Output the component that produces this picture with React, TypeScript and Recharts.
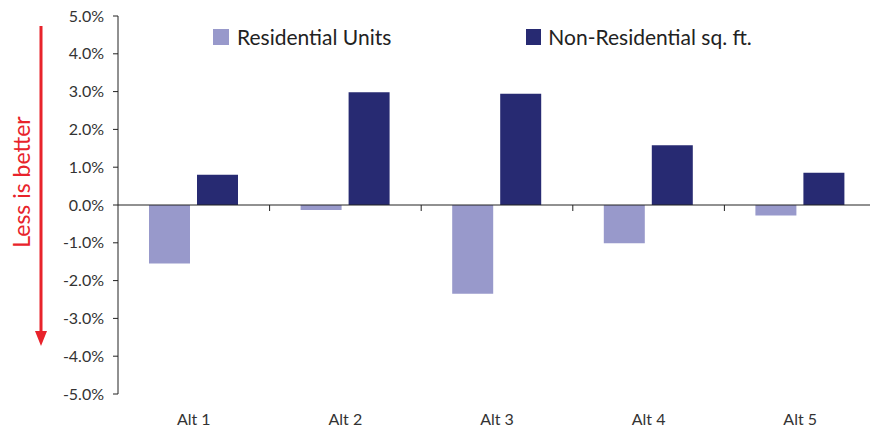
import React from 'react';
import { BarChart, Bar, XAxis, YAxis, ReferenceLine } from 'recharts';

const categories = ['Alt 1', 'Alt 2', 'Alt 3', 'Alt 4', 'Alt 5'];
const residentialUnits = [-1.55, -0.13, -2.35, -1.01, -0.28];
const nonResidentialSqFt = [0.8, 2.98, 2.94, 1.58, 0.85];
const yTicks = [-5, -4, -3, -2, -1, 0, 1, 2, 3, 4, 5];
const seriesNames = ['Residential Units', 'Non-Residential sq. ft.'];
const seriesColors = ['#9899CB', '#272A72'];
const annotation = 'Less is better';

const data = categories.map((c, i) => ({
  name: c,
  res: residentialUnits[i],
  nonres: nonResidentialSqFt[i],
}));

const FONT = 'Lato, "Open Sans", sans-serif';
const AXIS = '#222';

const ZeroAxis = (props: any) => {
  const { x1, x2, y1 } = props;
  const n = categories.length;
  const step = (x2 - x1) / n;
  const ticks = [];
  for (let i = 1; i <= n; i++) {
    const x = x1 + step * i;
    ticks.push(<line key={i} x1={x} x2={x} y1={y1} y2={y1 + 6} stroke={AXIS} strokeWidth={1} />);
  }
  return (
    <g>
      <line x1={x1} x2={x2} y1={y1} y2={y1} stroke={AXIS} strokeWidth={1} />
      {ticks}
    </g>
  );
};

export default function App() {
  return (
    <div
      style={{
        position: 'absolute',
        left: 0,
        top: 0,
        width: 870,
        height: 434,
        overflow: 'hidden',
        background: '#fff',
        fontFamily: FONT,
      }}
    >
      <BarChart
        width={880}
        height={434}
        data={data}
        margin={{ top: 16, right: 4, bottom: 10, left: 0 }}
        barGap={7}
        barSize={41}
      >
        <XAxis
          dataKey="name"
          axisLine={false}
          tickLine={false}
          tickSize={0}
          tickMargin={20}
          height={30}
          interval={0}
          tick={{ fill: '#333', fontSize: 16, fontFamily: FONT }}
        />
        <YAxis
          width={118}
          domain={[-5, 5]}
          ticks={yTicks}
          interval={0}
          tickFormatter={(v: number) => v.toFixed(1) + '%'}
          axisLine={{ stroke: AXIS }}
          tickLine={{ stroke: AXIS }}
          tickSize={5}
          tickMargin={9}
          tick={{ fill: '#333', fontSize: 16, fontFamily: FONT }}
        />
        <Bar dataKey="res" name={seriesNames[0]} fill={seriesColors[0]} isAnimationActive={false} />
        <Bar dataKey="nonres" name={seriesNames[1]} fill={seriesColors[1]} isAnimationActive={false} />
        <ReferenceLine y={0} shape={ZeroAxis} ifOverflow="visible" />
      </BarChart>

      <svg
        width={70}
        height={434}
        style={{ position: 'absolute', left: 0, top: 0, pointerEvents: 'none' }}
      >
        <text
          x={21}
          y={182}
          transform="rotate(-90 21 182)"
          textAnchor="middle"
          dominantBaseline="central"
          fill="#E8232B"
          fontSize={23}
          fontFamily={FONT}
        >
          {annotation}
        </text>
        <line x1={41} x2={41} y1={26} y2={333} stroke="#E8232B" strokeWidth={3} />
        <polygon points="35,331 47,331 41,346" fill="#E8232B" />
      </svg>

      <div
        style={{
          position: 'absolute',
          top: 25,
          left: 213,
          display: 'flex',
          alignItems: 'center',
          fontSize: 21,
          lineHeight: '24px',
          color: '#222',
          fontFamily: FONT,
          whiteSpace: 'nowrap',
        }}
      >
        <span style={{ display: 'inline-block', width: 16, height: 16, background: seriesColors[0], marginRight: 8 }} />
        <span style={{ marginRight: 135 }}>{seriesNames[0]}</span>
        <span style={{ display: 'inline-block', width: 15, height: 16, background: seriesColors[1], marginRight: 7 }} />
        <span>{seriesNames[1]}</span>
      </div>
    </div>
  );
}
